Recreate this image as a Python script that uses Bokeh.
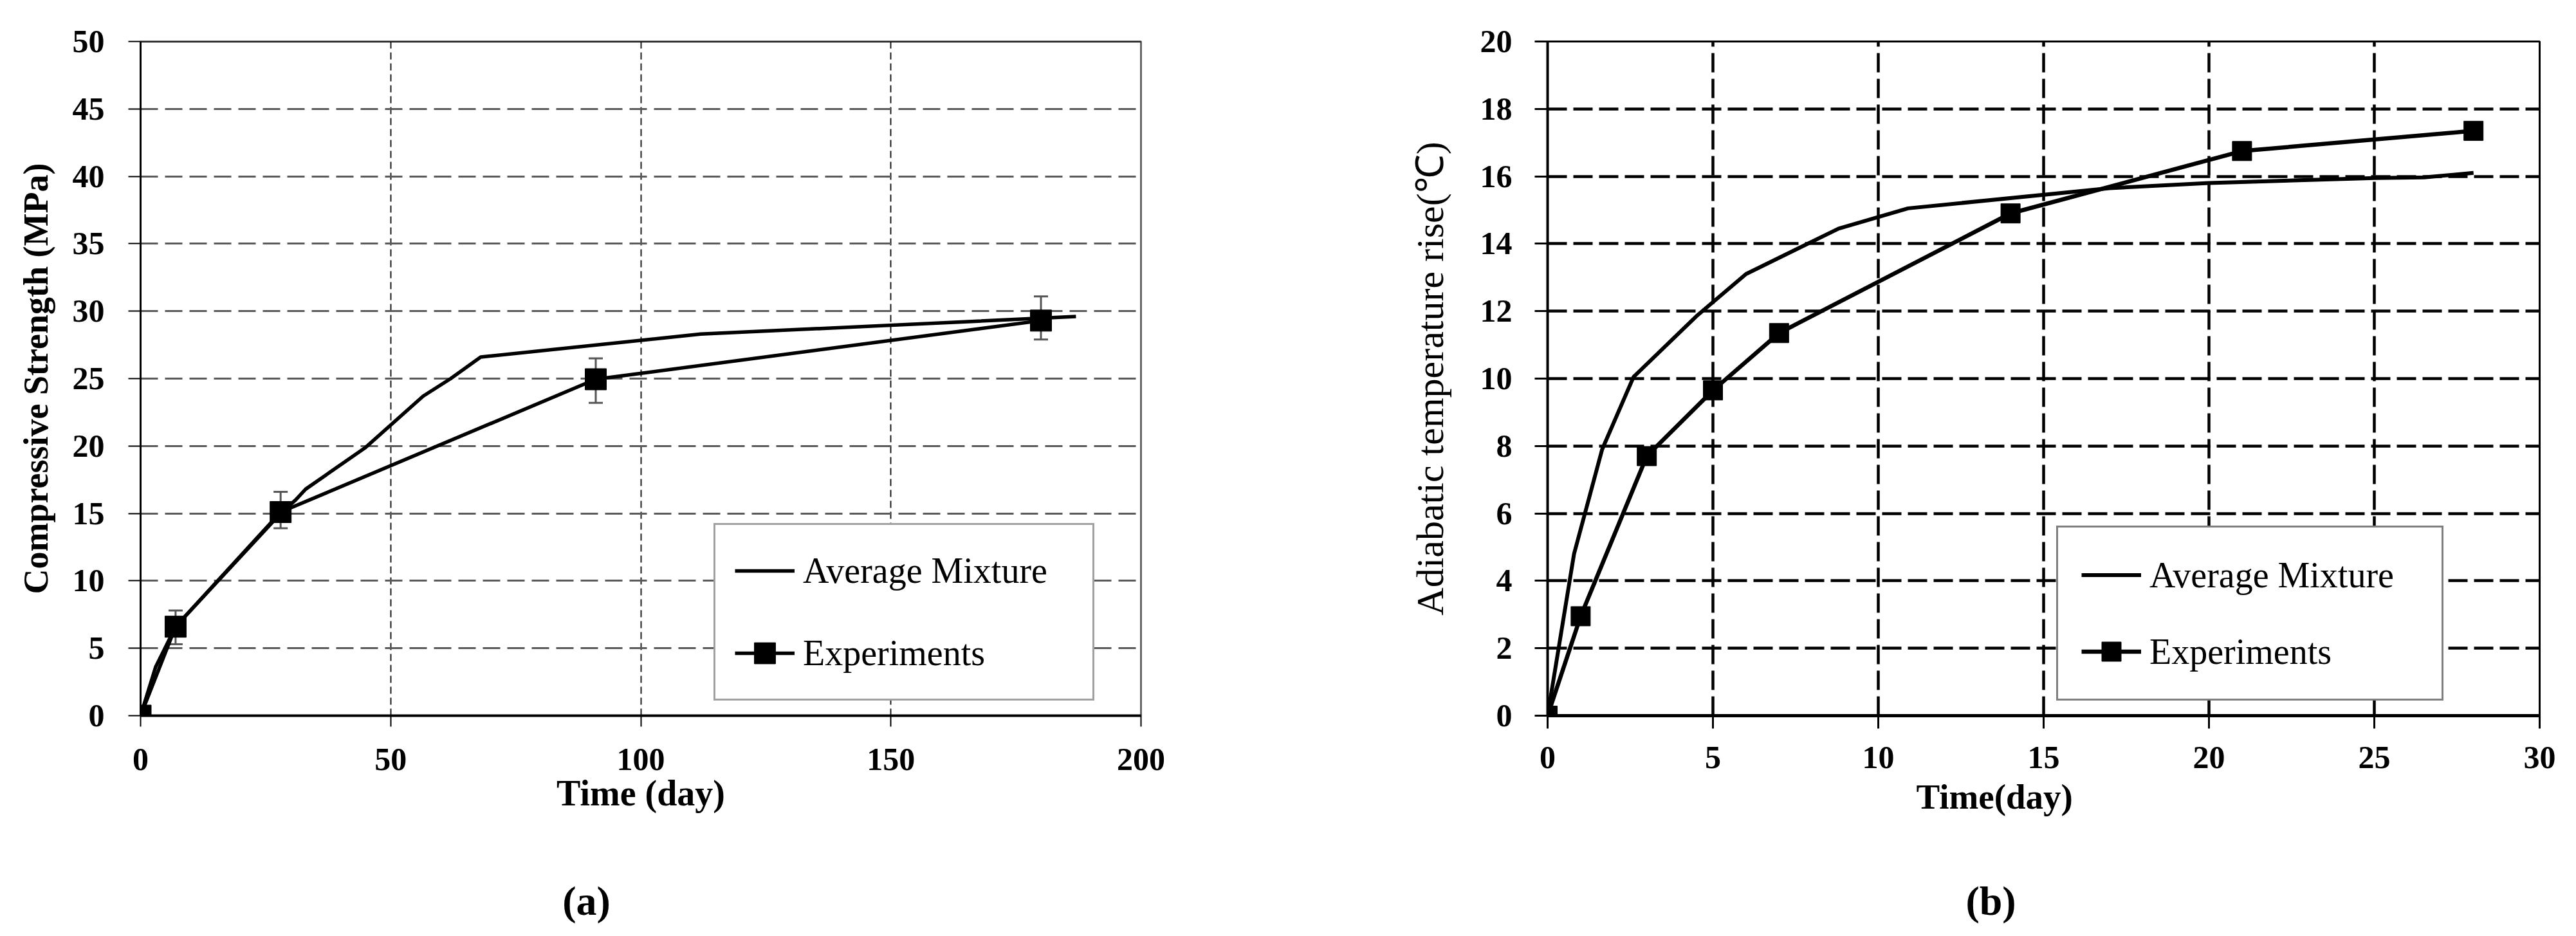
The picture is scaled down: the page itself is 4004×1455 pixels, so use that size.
from bokeh.plotting import figure
from bokeh.models import (Range1d, Whisker, ColumnDataSource, Legend, LegendItem,
                          Title, Label, Span, TeeHead, FixedTicker)
from bokeh.layouts import row, column
from bokeh.embed import file_html
from bokeh.resources import INLINE

# ---- (a) compressive strength ----
strength_days = [0, 7, 28, 91, 180]
strength_exp = [0.0, 6.6, 15.1, 24.95, 29.3]
err_days = [7, 28, 91, 180]
err_low = [5.3, 13.9, 23.2, 27.9]
err_high = [7.8, 16.6, 26.5, 31.1]
model_days_a = [0, 3, 7, 28, 31, 33, 45, 56.5, 62, 68, 112, 187]
model_strength = [0.0, 3.6, 6.6, 15.0, 16.0, 16.8, 19.9, 23.7, 25.0, 26.6, 28.3, 29.6]
x_ticks_a = [0, 50, 100, 150, 200]
y_ticks_a = [0, 5, 10, 15, 20, 25, 30, 35, 40, 45, 50]

# ---- (b) adiabatic temperature rise ----
temp_days = [0, 1, 3, 5, 7, 14, 21, 28]
temp_exp = [0.0, 2.95, 7.7, 9.65, 11.35, 14.9, 16.75, 17.35]
model_days_b = [0, 0.8, 1.65, 2.6, 4.5, 6.0, 8.8, 10.9, 17.0, 20.0, 25.0, 26.5, 28.0]
model_temp = [0.0, 4.8, 7.9, 10.05, 11.85, 13.1, 14.45, 15.05, 15.65, 15.8, 15.95, 15.97, 16.1]
x_ticks_b = [0, 5, 10, 15, 20, 25, 30]
y_ticks_b = [0, 2, 4, 6, 8, 10, 12, 14, 16, 18, 20]

SERIF = "Liberation Serif"
PANEL_W = 2002
PANEL_H = 1340
CAPTION_H = 115


def base_figure(x_end, y_end, left, right, top, bottom):
    p = figure(width=PANEL_W, height=PANEL_H, output_backend="svg", toolbar_location=None,
               x_range=Range1d(0, x_end), y_range=Range1d(0, y_end),
               min_border_left=left, min_border_right=right,
               min_border_top=top, min_border_bottom=bottom)
    p.background_fill_color = "white"
    p.border_fill_color = "white"
    for ax in (p.xaxis[0], p.yaxis[0]):
        ax.major_label_text_font = SERIF
        ax.major_label_text_font_style = "bold"
        ax.major_label_text_font_size = "50px"
        ax.major_label_text_color = "black"
        ax.minor_tick_line_color = None
        ax.major_tick_in = 0
        ax.axis_line_color = "black"
        ax.major_tick_line_color = "black"
        ax.axis_label_text_font = SERIF
        ax.axis_label_text_color = "black"
    return p


def caption(text, xfrac):
    # thin strip under each panel carrying the "(a)" / "(b)" tag
    c = figure(width=PANEL_W, height=CAPTION_H, output_backend="svg", toolbar_location=None,
               x_range=Range1d(0, 1), y_range=Range1d(0, 1),
               x_axis_type=None, y_axis_type=None, min_border=0)
    c.outline_line_color = None
    c.background_fill_color = "white"
    c.border_fill_color = "white"
    c.add_layout(Label(x=xfrac, y=0.48, text=text, text_font=SERIF, text_font_size="64px",
                       text_font_style="bold", text_align="center", text_baseline="middle",
                       text_color="black"))
    return c


def make_legend(model_r, exp_rs, loc, padding, spacing, glyph_h, label_w, border_color):
    return Legend(items=[LegendItem(label="Average Mixture", renderers=[model_r]),
                         LegendItem(label="Experiments", renderers=exp_rs)],
                  location=loc, margin=0, padding=padding, spacing=spacing,
                  glyph_width=93, glyph_height=glyph_h, label_standoff=13,
                  label_width=label_w,
                  label_text_font=SERIF, label_text_font_size="56px",
                  label_text_color="black",
                  border_line_color=border_color, border_line_width=3,
                  background_fill_color="white", background_fill_alpha=1.0)


# ================= panel (a) =================
pa = base_figure(200, 50, 218, 229, 63, PANEL_H - 1118)
pa.xaxis.ticker = FixedTicker(ticks=x_ticks_a)
pa.yaxis.ticker = FixedTicker(ticks=y_ticks_a)
pa.xaxis.axis_line_width = 4
pa.yaxis.axis_line_width = 3
pa.xaxis.major_tick_line_width = 2
pa.yaxis.major_tick_line_width = 2
pa.xaxis.major_tick_out = 17
pa.yaxis.major_tick_out = 19
pa.xaxis.major_label_standoff = 34
pa.yaxis.major_label_standoff = 37
pa.xaxis.axis_label = "Time (day)"
pa.xaxis.axis_label_text_font_size = "56px"
pa.xaxis.axis_label_text_font_style = "bold"
pa.xaxis.axis_label_standoff = 2
pa.yaxis.axis_label = "Compressive Strength (MPa)"
pa.yaxis.axis_label_text_font_size = "54px"
pa.yaxis.axis_label_text_font_style = "bold"
pa.yaxis.axis_label_standoff = 24

pa.ygrid.grid_line_color = "#5a5a5a"
pa.ygrid.grid_line_width = 3
pa.ygrid.grid_line_dash = "27 11"
pa.xgrid.grid_line_color = "#1a1a1a"
pa.xgrid.grid_line_width = 2
pa.xgrid.grid_line_dash = "11 6"
pa.outline_line_color = "#666666"
pa.outline_line_width = 3
pa.add_layout(Span(location=50, dimension="width", line_color="black", line_width=3))

err_src_a = ColumnDataSource(dict(x=err_days, lower=err_low, upper=err_high))
whisk = Whisker(base="x", lower="lower", upper="upper", source=err_src_a,
                line_color="#555555", line_width=3, level="underlay",
                upper_head=TeeHead(size=22, line_color="#555555", line_width=3),
                lower_head=TeeHead(size=22, line_color="#555555", line_width=3))
pa.add_layout(whisk)

ra_model = pa.line(model_days_a, model_strength, line_color="black", line_width=5.5)
ra_line = pa.line(strength_days, strength_exp, line_color="black", line_width=5.5)
ra_pts = pa.scatter(strength_days, strength_exp, marker="square", size=33,
                    fill_color="black", line_color="black")

pa.add_layout(make_legend(ra_model, [ra_line, ra_pts], (891, 23), 30, 46, 82, 420, "#444444"))

# ================= panel (b) =================
pb = base_figure(30, 20, 403, 57, 64, PANEL_H - 1112)
pb.xaxis.ticker = FixedTicker(ticks=x_ticks_b)
pb.yaxis.ticker = FixedTicker(ticks=y_ticks_b)
pb.xaxis.axis_line_width = 5
pb.yaxis.axis_line_width = 4
pb.xaxis.major_tick_line_width = 3
pb.yaxis.major_tick_line_width = 3
pb.xaxis.major_tick_out = 20
pb.yaxis.major_tick_out = 20
pb.xaxis.major_label_standoff = 28
pb.yaxis.major_label_standoff = 35
pb.yaxis.axis_label = "Adiabatic temperature rise(℃)"
pb.yaxis.axis_label_text_font_size = "60px"
pb.yaxis.axis_label_text_font_style = "normal"
pb.yaxis.axis_label_standoff = 42

for g in (pb.xgrid, pb.ygrid):
    g.grid_line_color = "black"
    g.grid_line_width = 4.5
    g.grid_line_dash = "30 10"
pb.outline_line_color = "black"
pb.outline_line_width = 3

rb_model = pb.line(model_days_b, model_temp, line_color="black", line_width=6)
rb_line = pb.line(temp_days, temp_exp, line_color="black", line_width=6.5)
rb_pts = pb.scatter(temp_days, temp_exp, marker="square", size=30,
                    fill_color="black", line_color="black")

pb.add_layout(make_legend(rb_model, [rb_line, rb_pts], (791, 23), 36, 44, 75, 418, "black"))
# x-axis title sits left of the frame centre, so it is placed as a left-aligned title
pb.add_layout(Title(text="Time(day)", align="left", offset=573, standoff=19,
                    text_font=SERIF, text_font_size="55px", text_font_style="bold",
                    text_color="black"), "below")

layout = column(row(pa, pb), row(caption("(a)", 911 / PANEL_W), caption("(b)", (3094 - PANEL_W) / PANEL_W)))
open("out.html", "w").write(file_html(layout, INLINE))
